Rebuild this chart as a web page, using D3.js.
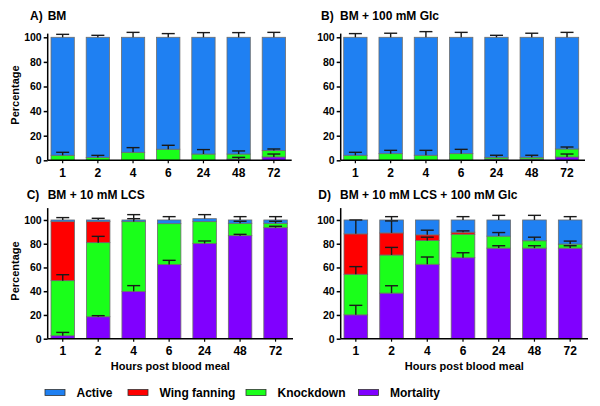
<!DOCTYPE html>
<html>
<head>
<meta charset="utf-8">
<script src="https://cdn.jsdelivr.net/npm/d3@7"></script>
<style>
  html, body { margin: 0; padding: 0; background: #fff; }
  svg { display: block; font-family: "Liberation Sans", Arial, Helvetica, sans-serif; font-weight: bold; }
</style>
</head>
<body>
<svg id="chart" width="600" height="406"></svg>
<script>
// ---------- DATA ----------
const hours = ["1", "2", "4", "6", "24", "48", "72"];
const seriesNames = ["Active", "Wing fanning", "Knockdown", "Mortality"];
const yTickValues = [0, 20, 40, 60, 80, 100];

// Panel A: BM
const A_mortality = [0, 0, 0, 0, 0, 1.0, 2.7];
const A_knockdown = [4.1, 2.2, 6.5, 9.0, 5.1, 4.1, 5.2];
const A_wing = [0, 0, 0, 0, 0, 0, 0];
const A_active = [95.9, 97.8, 93.5, 91.0, 94.9, 94.9, 92.1];
const A_errMortality = [0, 0, 0, 0, 0, 1.4, 2.4];
const A_errKnockdown = [2.4, 1.8, 3.8, 3.2, 3.6, 2.5, 1.3];
const A_errWing = [0, 0, 0, 0, 0, 0, 0];
const A_errActive = [2.4, 1.6, 4.0, 3.0, 3.8, 3.8, 4.0];

// Panel B: BM + 100 mM Glc
const B_mortality = [0, 0, 0, 0, 1.0, 1.0, 2.7];
const B_knockdown = [4.1, 5.4, 4.1, 5.4, 1.4, 1.4, 6.5];
const B_wing = [0, 0, 0, 0, 0, 0, 0];
const B_active = [95.9, 94.6, 95.9, 94.6, 97.6, 97.6, 90.8];
const B_errMortality = [0, 0, 0, 0, 0, 0, 2.4];
const B_errKnockdown = [2.4, 2.7, 4.0, 3.5, 1.7, 1.7, 1.6];
const B_errWing = [0, 0, 0, 0, 0, 0, 0];
const B_errActive = [3.0, 3.3, 4.6, 4.0, 1.6, 3.3, 4.0];

// Panel C: BM + 10 mM LCS
const C_mortality = [2.5, 18.5, 39.9, 62.6, 80.3, 86.8, 93.5];
const C_knockdown = [46.4, 62.4, 58.7, 34.3, 18.3, 10.4, 3.7];
const C_wing = [49.7, 17.7, 0, 0, 0, 0, 0];
const C_active = [1.4, 1.4, 1.4, 3.1, 2.5, 2.8, 2.8];
const C_errMortality = [2.8, 0.9, 4.8, 3.4, 2.0, 1.1, 1.2];
const C_errKnockdown = [5.0, 5.3, 2.5, 0, 0, 1.7, 1.7];
const C_errWing = [0, 0, 0, 0, 0, 0, 0];
const C_errActive = [2.0, 1.4, 4.5, 2.8, 3.4, 2.8, 2.8];

// Panel D: BM + 10 mM LCS + 100 mM Glc
const D_mortality = [20.1, 38.4, 62.7, 68.2, 76.3, 76.3, 76.3];
const D_knockdown = [34.2, 32.1, 20.0, 19.8, 10.1, 6.2, 3.4];
const D_wing = [34.0, 18.6, 4.8, 1.7, 0, 0, 0];
const D_active = [11.7, 10.9, 12.5, 10.3, 13.6, 17.5, 20.3];
const D_errMortality = [8.0, 6.2, 6.1, 4.2, 2.0, 2.0, 2.0];
const D_errKnockdown = [6.4, 6.4, 2.8, 0, 3.0, 3.0, 2.5];
const D_errWing = [11.7, 10.1, 3.9, 1.1, 0, 0, 0];
const D_errActive = [0, 2.8, 0, 2.8, 3.9, 3.9, 2.8];

// ---------- STYLE / LAYOUT ----------
const colors = { "Active": "#1f80f2", "Wing fanning": "#ff0000", "Knockdown": "#1aff1a", "Mortality": "#8000ff" };
const stackOrder = ["Mortality", "Knockdown", "Wing fanning", "Active"];

function buildRows(mort, knock, wing, active, eM, eK, eW, eA) {
  return hours.map((h, i) => ({
    hour: h,
    "Mortality": mort[i], "Knockdown": knock[i], "Wing fanning": wing[i], "Active": active[i],
    err: { "Mortality": eM[i], "Knockdown": eK[i], "Wing fanning": eW[i], "Active": eA[i] }
  }));
}

const panels = [
  { label: "A)", title: "BM", lx: 30, tx: 47.7, ty: 19.5,
    rows: buildRows(A_mortality, A_knockdown, A_wing, A_active, A_errMortality, A_errKnockdown, A_errWing, A_errActive),
    axisX: 47.7, xEnd: 291.7, barStart: 51, barEnd: 285.5, y0: 160.3, yMax: 103, yTop: 33.6,
    ylabel: true, ylabelY: 95, xlabel: false },
  { label: "B)", title: "BM + 100 mM Glc", lx: 321, tx: 340, ty: 19.5,
    rows: buildRows(B_mortality, B_knockdown, B_wing, B_active, B_errMortality, B_errKnockdown, B_errWing, B_errActive),
    axisX: 340.7, xEnd: 585, barStart: 343.7, barEnd: 578.7, y0: 160.3, yMax: 103, yTop: 33.6,
    ylabel: false, xlabel: false },
  { label: "C)", title: "BM + 10 mM LCS", lx: 26.7, tx: 47.7, ty: 198.5,
    rows: buildRows(C_mortality, C_knockdown, C_wing, C_active, C_errMortality, C_errKnockdown, C_errWing, C_errActive),
    axisX: 47.7, xEnd: 293, barStart: 51, barEnd: 287.3, y0: 338.7, yMax: 110, yTop: 208.1,
    ylabel: true, ylabelY: 271, xlabel: true },
  { label: "D)", title: "BM + 10 mM LCS + 100 mM Glc", lx: 318.3, tx: 340, ty: 198.5,
    rows: buildRows(D_mortality, D_knockdown, D_wing, D_active, D_errMortality, D_errKnockdown, D_errWing, D_errActive),
    axisX: 340.7, xEnd: 588, barStart: 344, barEnd: 582, y0: 338.7, yMax: 110, yTop: 208.1,
    ylabel: false, xlabel: true }
];

const svg = d3.select("#chart");
const stack = d3.stack().keys(stackOrder);

panels.forEach(p => {
  const g = svg.append("g");
  const x = d3.scaleBand().domain(hours).range([p.barStart, p.barEnd]).paddingInner(0.338).paddingOuter(0);
  const y = d3.scaleLinear().domain([0, p.yMax]).range([p.y0, p.yTop]);
  const series = stack(p.rows);

  // bars
  series.forEach(s => {
    g.append("g").selectAll("rect").data(s).join("rect")
      .attr("x", d => x(d.data.hour))
      .attr("width", x.bandwidth())
      .attr("y", d => y(d[1]))
      .attr("height", d => Math.max(0, y(d[0]) - y(d[1])))
      .attr("fill", colors[s.key])
      .attr("stroke", d => (d[1] - d[0]) > 0 ? "#6d6d6d" : "none")
      .attr("stroke-width", 0.8);
  });

  // error bars
  const capW = 13;
  series.forEach(s => {
    const eb = g.append("g").attr("stroke", "#1a1a1a").attr("stroke-width", 1.4);
    s.forEach(d => {
      const e = d.data.err[s.key];
      if (!(e > 0)) return;
      const cx = x(d.data.hour) + x.bandwidth() / 2;
      eb.append("line").attr("x1", cx).attr("x2", cx).attr("y1", y(d[1])).attr("y2", y(d[1] + e));
      eb.append("line").attr("x1", cx - capW / 2).attr("x2", cx + capW / 2).attr("y1", y(d[1] + e)).attr("y2", y(d[1] + e));
    });
  });

  // y axis
  const ya = g.append("g").attr("transform", `translate(${p.axisX},0)`)
    .call(d3.axisLeft(y).tickValues(yTickValues).tickSize(4).tickPadding(2).tickSizeOuter(0));
  ya.select(".domain").remove();
  ya.append("line").attr("x1", 0).attr("x2", 0).attr("y1", p.y0).attr("y2", p.yTop).attr("stroke", "#000").attr("stroke-width", 1.5);
  ya.selectAll(".tick line").attr("stroke", "#000").attr("stroke-width", 1.5);
  ya.selectAll(".tick text").attr("fill", "#000").style("font-size", "10.5px").style("font-weight", "bold")
    .style("font-family", "'Liberation Sans', Arial, sans-serif");

  // x axis
  const xa = g.append("g").attr("transform", `translate(0,${p.y0})`)
    .call(d3.axisBottom(x).tickSize(3).tickPadding(5).tickSizeOuter(0));
  xa.select(".domain").remove();
  xa.append("line").attr("x1", p.axisX).attr("x2", p.xEnd).attr("y1", 0).attr("y2", 0).attr("stroke", "#000").attr("stroke-width", 1.5);
  xa.selectAll(".tick line").attr("stroke", "#000").attr("stroke-width", 1.2);
  xa.selectAll(".tick text").attr("fill", "#000").style("font-size", "12px").style("font-weight", "bold")
    .style("font-family", "'Liberation Sans', Arial, sans-serif");

  // title
  g.append("text").attr("x", p.lx).attr("y", p.ty).style("font-size", "12px").text(p.label);
  g.append("text").attr("x", p.tx).attr("y", p.ty).style("font-size", "12px").text(p.title);

  if (p.ylabel) {
    g.append("text").attr("transform", `translate(19,${p.ylabelY}) rotate(-90)`)
      .attr("text-anchor", "middle").style("font-size", "11px").text("Percentage");
  }
  if (p.xlabel) {
    g.append("text").attr("x", (p.axisX + p.xEnd) / 2).attr("y", 369.5)
      .attr("text-anchor", "middle").style("font-size", "11px").text("Hours post blood meal");
  }
});

// legend
const legendX = [45, 128, 246, 358.5];
const lg = svg.append("g");
seriesNames.forEach((name, i) => {
  lg.append("rect").attr("x", legendX[i]).attr("y", 389.5).attr("width", 20).attr("height", 6)
    .attr("fill", colors[name]).attr("stroke", "#333").attr("stroke-width", 0.8);
  lg.append("text").attr("x", legendX[i] + 31.5).attr("y", 397.3).style("font-size", "12px").text(name);
});
</script>
</body>
</html>
